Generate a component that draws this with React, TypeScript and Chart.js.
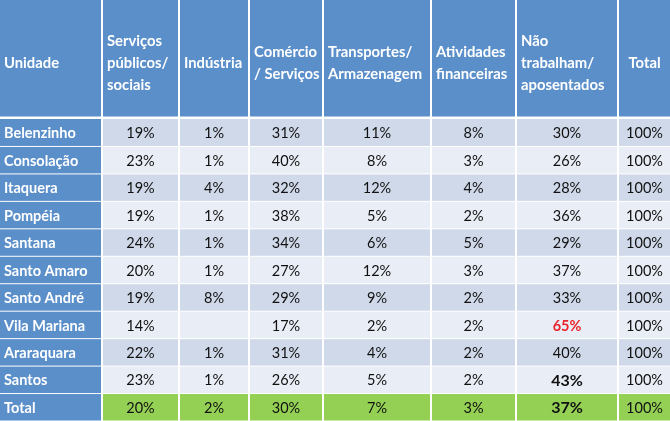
import React, { useEffect, useRef } from "react";
import { Chart, registerables } from "chart.js";

Chart.register(...registerables);

// ---- data ----
const headers: string[][] = [
  ["Unidade"],
  ["Serviços", "públicos/", "sociais"],
  ["Indústria"],
  ["Comércio", "/ Serviços"],
  ["Transportes/", "Armazenagem"],
  ["Atividades", "financeiras"],
  ["Não", "trabalham/", "aposentados"],
  ["Total"],
];
const units = [
  "Belenzinho",
  "Consolação",
  "Itaquera",
  "Pompéia",
  "Santana",
  "Santo Amaro",
  "Santo André",
  "Vila Mariana",
  "Araraquara",
  "Santos",
];
const servicos = [19, 23, 19, 19, 24, 20, 19, 14, 22, 23];
const industria: (number | null)[] = [1, 1, 4, 1, 1, 1, 8, null, 1, 1];
const comercio = [31, 40, 32, 38, 34, 27, 29, 17, 31, 26];
const transportes = [11, 8, 12, 5, 6, 12, 9, 2, 4, 5];
const atividades = [8, 3, 4, 2, 5, 3, 2, 2, 2, 2];
const naoTrabalham = [30, 26, 28, 36, 29, 37, 33, 65, 40, 43];
const totalCol = [100, 100, 100, 100, 100, 100, 100, 100, 100, 100];
const totalLabel = "Total";
const totalRow: (number | null)[] = [20, 2, 30, 7, 3, 37, 100];

// ---- layout (not data) ----
const W = 670;
const H = 421;
const COL_EDGES = [0, 102, 179, 249, 323, 431, 516, 618, 670];
const HEADER_BOTTOM = 116.5;
const BODY_TOP = 119;
const ROW_H = (H - BODY_TOP) / 11;

const FONT = "Lato, 'Open Sans', sans-serif";
const C_BLUE = "#5b8fca";
const C_BAND1 = "#d0d9e9";
const C_BAND2 = "#e9edf5";
const C_GREEN = "#93d054";

export default function App() {
  const ref = useRef<HTMLCanvasElement | null>(null);

  useEffect(() => {
    const canvas = ref.current;
    if (!canvas) return;
    const columns = [servicos, industria, comercio, transportes, atividades, naoTrabalham, totalCol];

    const tablePlugin = {
      id: "tablePlugin",
      beforeDatasetsDraw(chart: any) {
        const ctx = chart.ctx as CanvasRenderingContext2D;
        const xs = chart.scales.x;
        const ys = chart.scales.y;
        const px = (v: number) => xs.getPixelForValue(v);
        const py = (v: number) => ys.getPixelForValue(v);
        ctx.save();
        ctx.fillStyle = "#ffffff";
        ctx.fillRect(0, 0, chart.width, chart.height);

        const cell = (c: number, y0: number, y1: number, color: string) => {
          const x0 = px(COL_EDGES[c]) + (c === 0 ? 0 : 1);
          const x1 = px(COL_EDGES[c + 1]) - (c === COL_EDGES.length - 2 ? 0 : 1);
          ctx.fillStyle = color;
          ctx.fillRect(x0, py(y0), x1 - x0, py(y1) - py(y0));
          return { x0, x1 };
        };

        // header
        ctx.textBaseline = "middle";
        headers.forEach((lines, c) => {
          const { x0, x1 } = cell(c, 0, HEADER_BOTTOM, C_BLUE);
          ctx.fillStyle = "#ffffff";
          ctx.font = `bold 14.8px ${FONT}`;
          const lh = 22;
          const cy = py(63);
          const isTotal = c === headers.length - 1;
          ctx.textAlign = isTotal ? "center" : "left";
          lines.forEach((ln, i) => {
            const y = cy + (i - (lines.length - 1) / 2) * lh;
            ctx.fillText(ln, isTotal ? (x0 + x1) / 2 : x0 + 4, y);
          });
        });

        // body rows
        const rows = units.length + 1;
        for (let r = 0; r < rows; r++) {
          const isTotalRow = r === units.length;
          const y0 = BODY_TOP + r * ROW_H + (r === 0 ? 0 : 0.5);
          const y1 = BODY_TOP + (r + 1) * ROW_H - 0.5;
          const band = isTotalRow ? C_GREEN : r % 2 === 0 ? C_BAND1 : C_BAND2;
          const cyPx = (py(y0) + py(y1)) / 2;
          // first column
          const f = cell(0, y0, y1, C_BLUE);
          ctx.fillStyle = "#ffffff";
          ctx.font = `bold 14.5px ${FONT}`;
          ctx.textAlign = "left";
          ctx.fillText(isTotalRow ? totalLabel : units[r], f.x0 + 4, cyPx + 1);
          for (let c = 1; c < COL_EDGES.length - 1; c++) {
            const { x0, x1 } = cell(c, y0, y1, band);
            const v = isTotalRow ? totalRow[c - 1] : columns[c - 1][r];
            if (v === null || v === undefined) continue;
            let font = `14.5px ${FONT}`;
            let color = "#111111";
            if (c === 6 && !isTotalRow && units[r] === "Vila Mariana") {
              font = `bold 14.5px ${FONT}`;
              color = "#e8262b";
            } else if (c === 6 && (isTotalRow || units[r] === "Santos")) {
              font = `bold 16px ${FONT}`;
            }
            ctx.font = font;
            ctx.fillStyle = color;
            ctx.textAlign = "center";
            ctx.fillText(`${v}%`, (x0 + x1) / 2, cyPx + 1);
          }
        }
        ctx.restore();
      },
    };

    const chart = new Chart(canvas, {
      type: "scatter",
      data: { datasets: [{ data: [], pointRadius: 0 }] },
      options: {
        animation: false,
        responsive: false,
        maintainAspectRatio: false,
        devicePixelRatio: 1,
        layout: { padding: 0 },
        plugins: { legend: { display: false }, tooltip: { enabled: false } },
        scales: {
          x: { type: "linear", min: 0, max: W, display: false },
          y: { type: "linear", min: 0, max: H, reverse: true, display: false },
        },
      },
      plugins: [tablePlugin],
    });
    return () => chart.destroy();
  }, []);

  return (
    <div style={{ position: "fixed", left: 0, top: 0, width: W, height: H, background: "#fff" }}>
      <canvas ref={ref} width={W} height={H} style={{ display: "block" }} />
    </div>
  );
}
